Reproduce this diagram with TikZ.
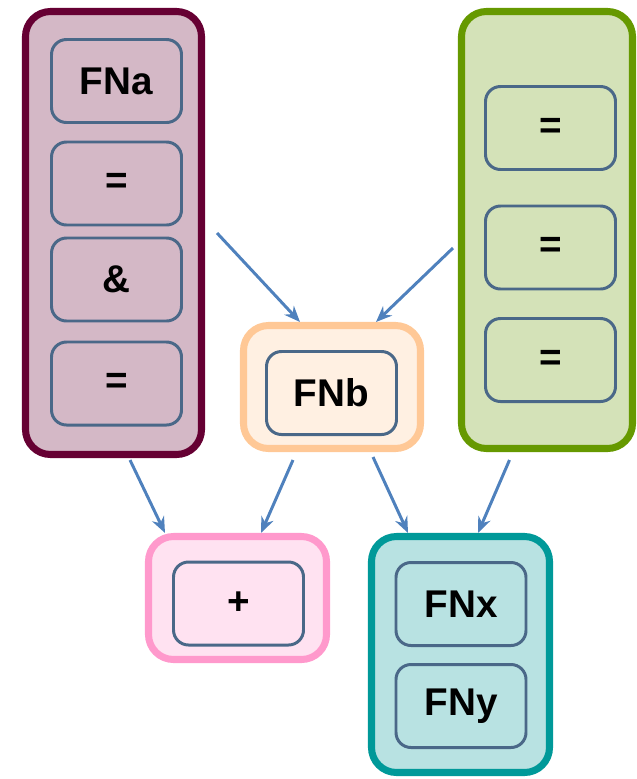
\documentclass[tikz,border=0pt]{standalone}
\usepackage{fontspec}
\setmainfont{Liberation Sans}
\usetikzlibrary{arrows.meta}
\definecolor{grpmaroon}{HTML}{660033}
\definecolor{grppeach}{HTML}{FFC896}
\definecolor{grpgreen}{HTML}{669900}
\definecolor{grppink}{HTML}{FF99CC}
\definecolor{grpteal}{HTML}{009999}
\definecolor{cellline}{HTML}{4A6888}
\definecolor{arrowblue}{HTML}{4F81BD}
\begin{document}
\begin{tikzpicture}[font=\fontsize{22}{26}\selectfont\bfseries,
  group/.style={draw=#1, fill=#1!28, line width=4pt, rounded corners=0.5cm},
  cell/.style={draw=cellline, line width=1.7pt, rounded corners=0.3cm,
    minimum width=2.6cm, minimum height=1.66cm, inner sep=0pt},
  link/.style={-{Stealth[length=0.32cm,width=0.26cm]}, arrowblue, line width=1.7pt}]
  \useasboundingbox (0,0) rectangle (12.74,-15.58);
  % 左侧组
  \node[group=grpmaroon, minimum width=3.52cm, minimum height=8.86cm] (grpA) at (2.27,-4.66) {};
  \node[cell] (cellA1) at (2.33,-1.62) {FNa};
  \node[cell] (cellA2) at (2.33,-3.67) {=};
  \node[cell] (cellA3) at (2.33,-5.59) {\&};
  \node[cell] (cellA4) at (2.33,-7.67) {=};
  % 中间组
  \node[group=grppeach, minimum width=3.54cm, minimum height=2.46cm] (grpB) at (6.64,-7.74) {};
  \node[cell] (cellB) at (6.63,-7.86) {FNb};
  % 右侧组
  \node[group=grpgreen, minimum width=3.42cm, minimum height=8.74cm] (grpC) at (10.94,-4.60) {};
  \node[cell] (cellC1) at (11.01,-2.56) {=};
  \node[cell] (cellC2) at (11.01,-4.95) {=};
  \node[cell] (cellC3) at (11.01,-7.20) {=};
  % 下方两组
  \node[group=grppink, minimum width=3.56cm, minimum height=2.46cm] (grpD) at (4.75,-11.96) {};
  \node[cell] (cellD) at (4.77,-12.07) {+};
  \node[group=grpteal, minimum width=3.56cm, minimum height=4.72cm] (grpE) at (9.21,-13.09) {};
  \node[cell] (cellE1) at (9.22,-12.08) {FNx};
  \node[cell] (cellE2) at (9.22,-14.12) {FNy};
  % 箭头
  \draw[link] ([xshift=0.24cm]grpA.east) -- ([xshift=-0.64cm]grpB.north);
  \draw[link] ([xshift=-0.1cm,yshift=-0.36cm]grpC.west) -- ([xshift=0.88cm]grpB.north);
  \draw[link] ([xshift=0.33cm,yshift=-0.04cm]grpA.south) -- ([xshift=-1.45cm]grpD.north);
  \draw[link] ([xshift=-0.78cm,yshift=-0.16cm]grpB.south) -- ([xshift=0.47cm]grpD.north);
  \draw[link] ([xshift=0.82cm,yshift=-0.1cm]grpB.south) -- ([xshift=-1.05cm]grpE.north);
  \draw[link] ([xshift=-0.75cm,yshift=-0.16cm]grpC.south) -- ([xshift=0.35cm]grpE.north);
\end{tikzpicture}
\end{document}
